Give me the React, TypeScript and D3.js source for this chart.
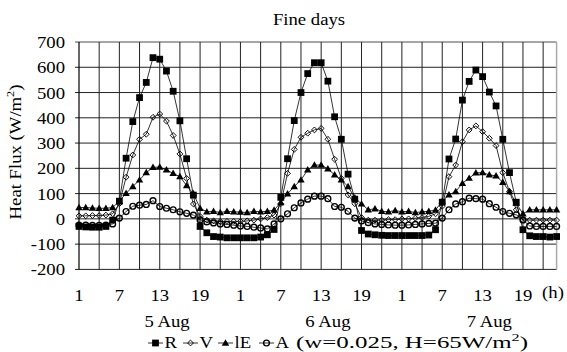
import React from 'react';
import * as d3 from 'd3';

// Hour index 1..72 (three days)
const hours: number[] = d3.range(1, 73);

const seriesR: number[] = [
  -30, -32, -33, -33, -30, -5, 70, 240, 385, 480, 540, 638, 632, 585, 505, 388, 238, 94, -30, -55, -70, -72, -75, -75,
  -75, -75, -75, -72, -63, -42, 85, 238, 389, 500, 575, 618, 618, 545, 404, 315, 177, 78, -46, -60, -63, -65, -66, -66,
  -66, -66, -66, -66, -64, -43, 66, 237, 316, 470, 544, 589, 563, 502, 447, 315, 183, 66, -43, -67, -70, -70, -72, -70,
];
const seriesV: number[] = [
  12, 12, 13, 13, 15, 20, 60, 165, 253, 315, 335, 402, 415, 387, 330, 257, 160, 59, 10, -5, -8, -10, -10, -10,
  -10, -8, -5, 0, 5, 15, 60, 180, 275, 323, 339, 352, 358, 315, 236, 160, 95, 60, 5, -5, -5, -5, -3, -3,
  0, 0, 3, 5, 10, 20, 50, 167, 213, 305, 352, 368, 345, 319, 290, 183, 108, 36, -4, -5, -5, -5, -5, -5,
];
const seriesLE: number[] = [
  45, 45, 43, 42, 42, 45, 70, 101, 128, 154, 183, 204, 205, 194, 180, 167, 132, 100, 42, 28, 30, 25, 30, 28,
  27, 25, 30, 28, 30, 35, 64, 99, 128, 154, 194, 213, 213, 198, 174, 154, 128, 83, 59, 36, 40, 30, 28, 33,
  28, 30, 25, 28, 30, 35, 70, 95, 108, 141, 161, 182, 183, 174, 170, 145, 108, 62, 20, 36, 36, 36, 36, 36,
];
const seriesA: number[] = [
  -25, -25, -26, -26, -25, -20, 3, 29, 50, 54, 57, 72, 49, 42, 36, 28, 22, 15, -4, -12, -16, -20, -22, -25,
  -28, -30, -33, -36, -40, -20, 0, 20, 44, 63, 78, 90, 90, 80, 49, 46, 30, 3, -8, -15, -20, -22, -24, -25,
  -25, -24, -22, -20, -18, -17, 3, 36, 59, 68, 82, 80, 78, 60, 46, 29, 22, 16, -4, -28, -30, -30, -30, -30,
];

const seriesNames: string[] = ['R', 'V', 'lE', 'A'];

const yTicks: number[] = [-200, -100, 0, 100, 200, 300, 400, 500, 600, 700];
const xTickHours: number[] = [1, 7, 13, 19, 25, 31, 37, 43, 49, 55, 61, 67];
const xTickLabels: string[] = ['1', '7', '13', '19', '1', '7', '13', '19', '1', '7', '13', '19'];
const gridHours: number[] = d3.range(4, 72, 3);
const dayLabels: string[] = ['5 Aug', '6 Aug', '7 Aug'];
const dayLabelHours: number[] = [14.1, 38.0, 62.0];

const FONT = 'Liberation Serif, Times New Roman, Times, serif';
const FS = 17;
const SX = 1.1;

const T = ({
  x,
  y,
  anchor = 'start',
  children,
  rotate = 0,
}: {
  x: number;
  y: number;
  anchor?: 'start' | 'middle' | 'end';
  children: React.ReactNode;
  rotate?: number;
}) => (
  <g transform={`translate(${x},${y}) rotate(${rotate}) scale(${SX},1)`}>
    <text x={0} y={0} textAnchor={anchor} style={{ fontFamily: FONT, fontSize: FS }}>
      {children}
    </text>
  </g>
);

export default function App() {
  const W = 567;
  const H = 352;
  const x = d3.scaleLinear().domain([1, 72]).range([79, 556.6]);
  const y = d3.scaleLinear().domain([-200, 700]).range([269.4, 42]);

  const line = d3
    .line<number>()
    .x((_, i) => x(hours[i]))
    .y((d) => y(d));

  const squarePath = d3.symbol().type(d3.symbolSquare).size(46)()!;
  const diamondPath = d3.symbol().type(d3.symbolSquare).size(17)()!;
  const trianglePath = d3.symbol().type(d3.symbolTriangle).size(24)()!;

  const allSeries = [seriesR, seriesV, seriesLE, seriesA];

  const marker = (k: number, cx: number, cy: number, key: string) => {
    if (k === 0)
      return <path key={key} d={squarePath} transform={`translate(${cx},${cy})`} fill="#000" />;
    if (k === 1)
      return (
        <path
          key={key}
          d={diamondPath}
          transform={`translate(${cx},${cy}) rotate(45)`}
          fill="none"
          stroke="#000"
          strokeWidth={0.9}
        />
      );
    if (k === 2)
      return <path key={key} d={trianglePath} transform={`translate(${cx},${cy + 0.5})`} fill="#000" />;
    return <circle key={key} cx={cx} cy={cy} r={2.9} fill="none" stroke="#000" strokeWidth={1.4} />;
  };

  const legendY = 343;
  const legendX = [148, 183, 218, 259];

  return (
    <svg width={W} height={H} style={{ position: 'absolute', left: 0, top: 0, background: '#fff' }}>
      <rect x={0} y={0} width={W} height={H} fill="#fff" />
      <T x={309} y={25} anchor="middle">
        Fine days
      </T>

      {yTicks.map((t) => (
        <line
          key={'h' + t}
          x1={x(1) - 4}
          x2={x(72)}
          y1={y(t)}
          y2={y(t)}
          stroke={t === 700 ? '#888' : '#222'}
          strokeWidth={t === 700 ? 1.5 : 1}
        />
      ))}
      {gridHours.map((h) => (
        <line key={'v' + h} x1={x(h)} x2={x(h)} y1={y(700)} y2={y(-200)} stroke="#222" strokeWidth={1} />
      ))}
      <line x1={x(72)} x2={x(72)} y1={y(700)} y2={y(-200)} stroke="#aaa" strokeWidth={1.5} />
      <line x1={x(1)} x2={x(1)} y1={y(700)} y2={y(-200)} stroke="#000" strokeWidth={1.2} />

      {yTicks.map((t) => (
        <T key={'yl' + t} x={65} y={y(t) + 6} anchor="end">
          {t}
        </T>
      ))}

      <T x={21} y={152} anchor="middle" rotate={-90}>
        Heat Flux (W/m
        <tspan dy={-7} style={{ fontSize: 11 }}>
          2
        </tspan>
        <tspan dy={7}>)</tspan>
      </T>

      {xTickHours.map((h, i) => (
        <T key={'xl' + i} x={x(h)} y={301} anchor="middle">
          {xTickLabels[i]}
        </T>
      ))}
      <T x={553} y={298} anchor="middle">
        (h)
      </T>

      {dayLabels.map((d, i) => (
        <T key={'d' + i} x={x(dayLabelHours[i])} y={327} anchor="middle">
          {d}
        </T>
      ))}

      {allSeries.map((s, k) => (
        <path key={'l' + k} d={line(s)!} fill="none" stroke="#000" strokeWidth={0.8} />
      ))}
      {allSeries.map((s, k) => (
        <g key={'m' + k}>{s.map((v, i) => marker(k, x(hours[i]), y(v), `${k}-${i}`))}</g>
      ))}

      {legendX.map((x0, k) => (
        <g key={'lg' + k}>
          <line x1={x0} x2={x0 + 15} y1={legendY} y2={legendY} stroke="#000" strokeWidth={0.8} />
          {marker(k, x0 + 7.5, legendY, 'lgm' + k)}
          <T x={x0 + 16.5} y={348}>
            {seriesNames[k]}
          </T>
        </g>
      ))}
      <text
        x={296}
        y={348}
        textLength={232}
        lengthAdjust="spacingAndGlyphs"
        style={{ fontFamily: FONT, fontSize: 17 }}
      >
        (w=0.025, H=65W/m
        <tspan dy={-7} style={{ fontSize: 11 }}>
          2
        </tspan>
        <tspan dy={7}>)</tspan>
      </text>
    </svg>
  );
}
